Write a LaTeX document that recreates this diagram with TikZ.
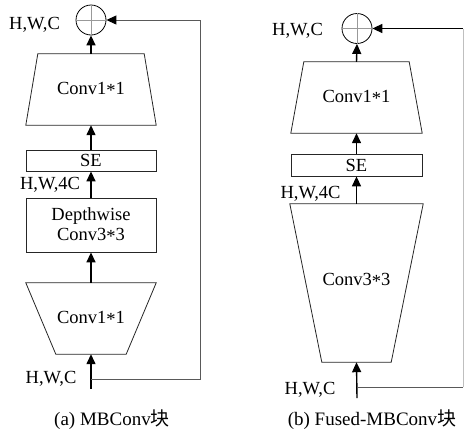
\documentclass[tikz,border=0pt]{standalone}
\usepackage{fontspec}
\setmainfont{Liberation Serif}
\newfontfamily\cjk{Noto Sans CJK SC}
\usetikzlibrary{arrows.meta,calc}
\newcommand{\mystar}{\raisebox{-0.28ex}{*}}
\begin{document}
\begin{tikzpicture}[x=1pt,y=-1pt,
  box/.style={draw=none, minimum width=130pt, inner sep=0pt, font=\fontsize{18.5}{20}\selectfont, align=center},
  outline/.style={line width=0.8pt, draw=black!85},
  flow/.style={line width=1.4pt, -{Triangle[length=10pt,width=9pt]}},
  skipline/.style={line width=1pt, draw=black!65},
  lab/.style={font=\fontsize{18.5}{20}\selectfont, inner sep=0pt, anchor=base},
  capt/.style={font=\fontsize{19}{20}\selectfont, inner sep=0pt, anchor=base},
  addc/.style={circle, draw, line width=0.8pt, minimum size=30pt, inner sep=0pt},
  crossl/.style={draw=black!40, line width=0.6pt}
]
\useasboundingbox (0,0) rectangle (465,432);
% ---------- left (a) ----------
\node[box, minimum height=71pt] (lt) at (91,89.5) {Conv1\mystar1};
\draw[outline] ([xshift=12pt]lt.north west) -- ([xshift=-12pt]lt.north east) -- (lt.south east) -- (lt.south west) -- cycle;
\node[box, outline, minimum height=21pt] (lse) at (91,160.5) {SE};
\node[box, outline, minimum height=54pt] (ldw) at (91,225) {Depthwise\\Conv3\mystar3};
\node[box, minimum height=71pt] (lb) at (91,318.5) {Conv1\mystar1};
\draw[outline] (lb.north west) -- (lb.north east) -- ([xshift=-30pt]lb.south east) -- ([xshift=30pt]lb.south west) -- cycle;
\node[addc] (lp) at (91,20) {};
\draw[crossl] (lp.north) -- (lp.south) (lp.west) -- (lp.east);
\coordinate (lin) at (91,389);
\coordinate (lsk) at (91,379);
\coordinate (lr1) at (200,379);
\coordinate (lr2) at (200,20);
\draw[flow] (lin) -- (lb.south);
\draw[flow] (lb.north) -- (ldw.south);
\draw[flow] (ldw.north) -- (lse.south);
\draw[flow] (lse.north) -- (lt.south);
\draw[flow] (lt.north) -- (lp.south);
\draw[skipline, -{Triangle[length=10pt,width=9pt,black]}] (lsk) -- (lr1) -- (lr2) -- (lp.east);
\node[lab] (l1) at (34.5,29.5) {H,W,C};
\node[lab] (l2) at (50,189) {H,W,4C};
\node[lab] (l3) at (51,383.5) {H,W,C};
\node[capt] (lc) at (112,425.5) {(a) MBConv{\cjk 块}};
% ---------- right (b) ----------
\node[box, minimum width=131pt, minimum height=71pt] (rt) at (356.5,97.5) {Conv1\mystar1};
\draw[outline] ([xshift=13pt]rt.north west) -- ([xshift=-13pt]rt.north east) -- (rt.south east) -- (rt.south west) -- cycle;
\node[box, outline, minimum width=131pt, minimum height=22pt] (rse) at (356.5,165) {SE};
\node[box, minimum width=133pt, minimum height=158pt, text depth=8pt] (rb) at (356.5,283) {Conv3\mystar3};
\draw[outline] (rb.north west) -- (rb.north east) -- ([xshift=-32pt]rb.south east) -- ([xshift=32pt]rb.south west) -- cycle;
\node[addc] (rp) at (357,28.5) {};
\draw[crossl] (rp.north) -- (rp.south) (rp.west) -- (rp.east);
\coordinate (rin) at (357,398);
\coordinate (rsk) at (357,387);
\coordinate (rr1) at (463,387);
\coordinate (rr2) at (463,28.5);
\draw[flow] (rin) -- (rb.south);
\draw[flow] (rb.north) -- (rse.south);
\draw[flow] (rse.north) -- (rt.south);
\draw[flow] (rt.north) -- (rp.south);
\draw[skipline] (rsk) -- (rr1);
\draw[draw=black!25, line width=0.8pt] (rr1) -- (rr2);
\draw[line width=1.6pt, -{Triangle[length=10pt,width=9pt]}] (rr2) -- (rp.east);
\node[lab] (r1) at (297.5,35) {H,W,C};
\node[lab] (r2) at (310.5,198) {H,W,4C};
\node[lab] (r3) at (310,394) {H,W,C};
\node[capt] (rc) at (372,425) {(b) Fused-MBConv{\cjk 块}};
\end{tikzpicture}
\end{document}
